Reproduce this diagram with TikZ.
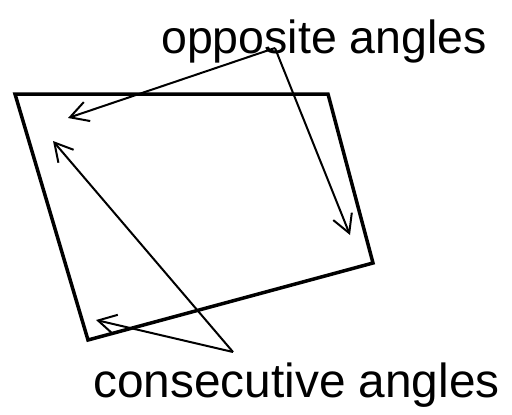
\documentclass[tikz,border=0pt]{standalone}
\usepackage{fontspec}
\setmainfont{Liberation Sans}
\usetikzlibrary{arrows.meta}
\begin{document}
\begin{tikzpicture}[x=1pt,y=-1pt,
  quadline/.style={line width=3.5pt,line join=miter},
  pointer/.style={line width=2pt,-{Straight Barb[length=18pt,width=20pt,line width=2pt]}},
  caption/.style={inner sep=0pt,anchor=base west,font=\fontsize{47}{50}\selectfont}]
\useasboundingbox (0,0) rectangle (512,415);
\coordinate (tl) at (15,94);
\coordinate (tr) at (328,94);
\coordinate (br) at (373,263);
\coordinate (bl) at (88,340);
\draw[quadline] (tl) -- (tr) -- (br) -- (bl) -- cycle;
\node[caption,font=\fontsize{46.5}{50}\selectfont] (opp) at (161,53) {opposite angles};
\node[caption,font=\fontsize{47.8}{50}\selectfont] (cons) at (93,397) {consecutive angles};
\coordinate (oapex) at (275,48);
\coordinate (capex) at (233,352);
\coordinate (otl) at (68,118);
\coordinate (obr) at (350,235);
\coordinate (ctl) at (53,141);
\coordinate (cbl) at (96,320);
\draw[pointer] (oapex) -- (otl);
\draw[pointer] (oapex) -- (obr);
\draw[pointer] (capex) -- (ctl);
\draw[pointer] (capex) -- (cbl);
\end{tikzpicture}
\end{document}
